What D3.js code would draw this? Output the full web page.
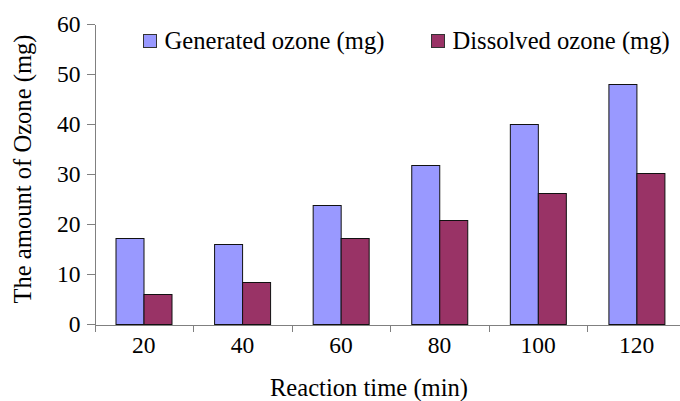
<!DOCTYPE html>
<html>
<head>
<meta charset="utf-8">
<script src="https://cdn.jsdelivr.net/npm/d3@7"></script>
<style>
  html, body { margin: 0; padding: 0; background: #fff; }
  svg { display: block; }
  text { font-family: "Liberation Serif", "Times New Roman", "DejaVu Serif", serif; fill: #000; }
</style>
</head>
<body>
<svg id="chart" width="680" height="401"></svg>
<script>
// Reaction time categories (min)
const categories = ["20", "40", "60", "80", "100", "120"];
// Series names as shown in the legend
const seriesNames = ["Generated ozone (mg)", "Dissolved ozone (mg)"];
// Ozone amounts (mg) per reaction time
const generated = [17.3, 16.1, 23.9, 31.9, 40.0, 48.0];
const dissolved = [6.1, 8.5, 17.3, 20.8, 26.1, 30.3];
// Y axis ticks
const yTicks = [0, 10, 20, 30, 40, 50, 60];
const seriesColors = ["#9999FF", "#993366"];

const svg = d3.select("#chart");
const plotLeft = 94.5, plotRight = 686, plotTop = 24, plotBottom = 324;
const serif = "Liberation Serif, Times New Roman, DejaVu Serif, serif";

const x0 = d3.scaleBand().domain(categories).range([plotLeft, plotRight]).padding(0);
const bw = x0.bandwidth();
const x1 = d3.scaleBand().domain(seriesNames).range([bw * 0.213, bw * 0.787]).padding(0);
const y = d3.scaleLinear().domain([0, 60]).range([plotBottom, plotTop]);

const rows = categories.map((c, i) => ({ cat: c, values: [generated[i], dissolved[i]] }));

// Bars
const groups = svg.append("g").selectAll("g").data(rows).join("g")
  .attr("transform", d => `translate(${x0(d.cat)},0)`);
groups.selectAll("rect")
  .data(d => d.values.map((v, k) => ({ name: seriesNames[k], v, k })))
  .join("rect")
  .attr("x", d => Math.round(x1(d.name)) + 0.5)
  .attr("y", d => Math.round(y(d.v)) + 0.5)
  .attr("width", Math.round(x1.bandwidth()))
  .attr("height", d => Math.round(y(0)) - Math.round(y(d.v)))
  .attr("fill", d => seriesColors[d.k])
  .attr("stroke", "#111")
  .attr("stroke-width", 1);

// Y axis
const yAxis = svg.append("g")
  .attr("transform", `translate(${plotLeft},0)`)
  .attr("font-family", serif)
  .call(d3.axisLeft(y).tickValues(yTicks).tickSize(8).tickSizeOuter(0).tickPadding(6));
yAxis.attr("font-family", serif);
yAxis.selectAll("text").attr("font-size", 23.5);
yAxis.selectAll("line, path").attr("stroke", "#808080").attr("shape-rendering", "crispEdges");

// X axis: labels centred on each group, tick marks on group boundaries
const xAxis = svg.append("g")
  .attr("transform", `translate(0,${plotBottom + 0.5})`)
  .call(d3.axisBottom(x0).tickSize(0).tickSizeOuter(0).tickPadding(12));
xAxis.attr("font-family", serif);
xAxis.selectAll("text").attr("font-size", 23.5);
xAxis.select("path").attr("stroke", "#808080").attr("shape-rendering", "crispEdges");
xAxis.selectAll(".boundary").data(categories).join("line")
  .attr("class", "boundary")
  .attr("x1", d => Math.round(x0(d)) + 0.5).attr("x2", d => Math.round(x0(d)) + 0.5)
  .attr("y1", 0).attr("y2", 7)
  .attr("stroke", "#808080").attr("shape-rendering", "crispEdges");

// Axis titles
svg.append("text")
  .attr("x", 369).attr("y", 396)
  .attr("text-anchor", "middle").attr("font-size", 24.6)
  .text("Reaction time (min)");
svg.append("text")
  .attr("transform", "translate(31,169) rotate(-90)")
  .attr("text-anchor", "middle").attr("font-size", 24.6)
  .text("The amount of Ozone (mg)");

// Legend
const legendX = [143.5, 431.5];
const legend = svg.append("g").selectAll("g").data(seriesNames).join("g")
  .attr("transform", (d, i) => `translate(${legendX[i]},34.5)`);
legend.append("rect")
  .attr("width", 13).attr("height", 13)
  .attr("fill", (d, i) => seriesColors[i])
  .attr("stroke", "#333");
legend.append("text")
  .attr("x", 21).attr("y", 14)
  .attr("font-size", 24.6)
  .text(d => d);
</script>
</body>
</html>
